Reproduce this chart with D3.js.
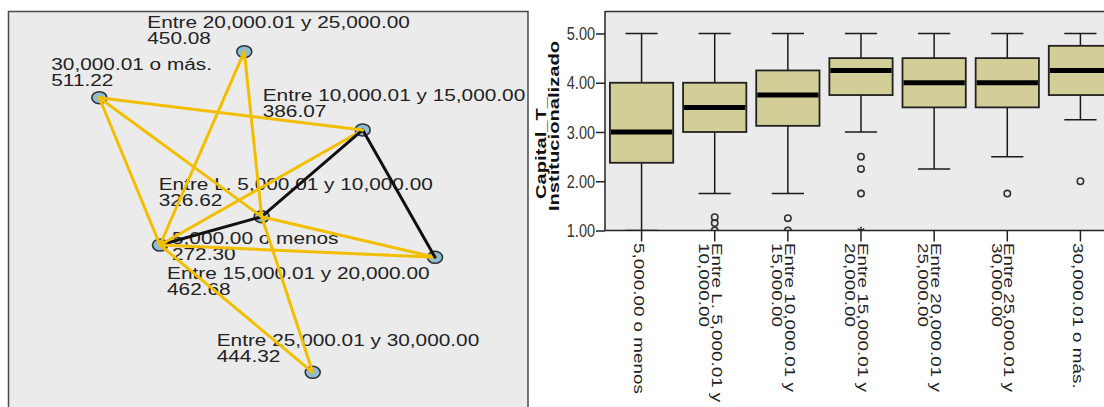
<!DOCTYPE html>
<html><head><meta charset="utf-8">
<script src="https://cdn.jsdelivr.net/npm/d3@7"></script>
<style>
html,body{margin:0;padding:0;background:#fff;}
svg{display:block;font-family:"Liberation Sans",Arial,Helvetica,sans-serif;}
</style></head><body>
<svg id="chart" width="1104" height="407"></svg>
<script>
// ================= DATA =================
// groups (shared by both panels)
const groups = ["5,000.00 o menos","Entre L. 5,000.01 y 10,000.00","Entre 10,000.01 y 15,000.00",
  "Entre 15,000.01 y 20,000.00","Entre 20,000.01 y 25,000.00","Entre 25,000.01 y 30,000.00","30,000.01 o más."];
// left panel: pairwise comparisons, mean ranks
const meanRanks = [272.30, 326.62, 386.07, 462.68, 450.08, 444.32, 511.22];
// node layout in the network panel (relative 0-1 coordinates)
const nodeLayoutX = [0.2923, 0.4879, 0.6821, 0.8212, 0.4544, 0.5860, 0.1756];
const nodeLayoutY = [0.5899, 0.5182, 0.2987, 0.6210, 0.1005, 0.9122, 0.2170];
// edges between groups (index pairs) and whether the difference is significant
const edgeFrom = [0,0,0,0,0,0,1,1,1,1,1,2,2];
const edgeTo   = [1,2,3,4,5,6,2,3,4,5,6,3,6];
const edgeSignificant = [false,true,true,true,true,true,false,true,true,true,true,false,true];

// right panel: boxplot of Capital_T_Institucionalizado
const categories = groups;
const tickLabelLines = [["5,000.00 o menos"],["Entre L. 5,000.01 y","10,000.00"],["Entre 10,000.01 y","15,000.00"],
  ["Entre 15,000.01 y","20,000.00"],["Entre 20,000.01 y","25,000.00"],["Entre 25,000.01 y","30,000.00"],["30,000.01 o más."]];
const whiskerHigh = [5.00, 5.00, 5.00, 5.00, 5.00, 5.00, 5.00];
const q3          = [4.00, 4.00, 4.25, 4.50, 4.50, 4.50, 4.75];
const median      = [3.00, 3.50, 3.75, 4.25, 4.00, 4.00, 4.25];
const q1          = [2.375,3.00, 3.125,3.75, 3.50, 3.50, 3.75];
const whiskerLow  = [1.00, 1.75, 1.75, 3.00, 2.25, 2.50, 3.25];
const outliers    = [[], [1.27,1.15,1.00], [1.25,1.00], [2.50,2.25,1.75], [], [1.75], [2.00]];
const extremes    = [[], [], [], [1.00], [], [], []];
const yTicks = [1, 2, 3, 4, 5];
const yTitleLines = ["Capital_T_", "Institucionalizado"];

// ================= LAYOUT / STYLE =================
const labelDx = [12, -103, -100, -268, -97, -96, -48];
const labelDy = [-1.5, -26.7, -28.5, 22, -23.2, -26.8, -27.7];
const BG = "#ebebeb", INK = "#222";
const svg = d3.select("#chart");

function stretch(sel, k){
  sel.each(function(){
    const L = this.getComputedTextLength();
    this.setAttribute("textLength", L*k);
    this.setAttribute("lengthAdjust","spacingAndGlyphs");
  });
}

// ================= LEFT PANEL =================
const left = svg.append("g");
const netX = d3.scaleLinear().domain([0,1]).range([8,528]);
const netY = d3.scaleLinear().domain([0,1]).range([12,407]);
left.append("rect").attr("x",8.5).attr("y",11.5).attr("width",519.5).attr("height",430)
  .attr("fill",BG).attr("stroke","#4a4a4a").attr("stroke-width",1.5);

const nodes = groups.map((g,i)=>({name:g, rank:meanRanks[i], x:netX(nodeLayoutX[i]), y:netY(nodeLayoutY[i]), dx:labelDx[i], dy:labelDy[i]}));

const lab = left.append("g").attr("fill",INK).attr("font-size",16);
nodes.forEach(n=>{
  lab.append("text").attr("x",n.x+n.dx).attr("y",n.y+n.dy).text(n.name).call(stretch,1.3);
  lab.append("text").attr("x",n.x+n.dx).attr("y",n.y+n.dy+16).text(d3.format(".2f")(n.rank)).call(stretch,1.3);
});

left.append("g").selectAll("ellipse").data(nodes).join("ellipse")
  .attr("cx",d=>d.x).attr("cy",d=>d.y).attr("rx",7.5).attr("ry",6)
  .attr("fill","#8fbdd6").attr("stroke","#333").attr("stroke-width",1.6);

const edges = edgeFrom.map((f,i)=>({a:nodes[f], b:nodes[edgeTo[i]], sig:edgeSignificant[i]}));
left.append("g").selectAll("line").data(edges).join("line")
  .attr("x1",d=>d.a.x).attr("y1",d=>d.a.y).attr("x2",d=>d.b.x).attr("y2",d=>d.b.y)
  .attr("stroke",d=>d.sig?"#f2bf00":"#111").attr("stroke-width",3).attr("stroke-linecap","round");

// ================= RIGHT PANEL =================
const right = svg.append("g");
const x = d3.scaleBand().domain(categories).range([605,1117]).paddingInner(0).paddingOuter(0);
const y = d3.scaleLinear().domain([1,5]).range([230.5,33.5]);
const bw = x.bandwidth();
const boxW = bw*0.865, capW = bw*0.44;
const plotTop = 11, plotBottom = y(1), plotLeft = 605, plotRight = 1130;

right.append("rect").attr("x",plotLeft).attr("y",plotTop).attr("width",plotRight-plotLeft).attr("height",plotBottom-plotTop).attr("fill",BG);
svg.append("defs").append("clipPath").attr("id","pc").append("rect")
  .attr("x",plotLeft).attr("y",plotTop).attr("width",plotRight-plotLeft).attr("height",plotBottom-plotTop);
const plot = right.append("g").attr("clip-path","url(#pc)");

categories.forEach((c,i)=>{
  const cx = x(c)+bw/2;
  const g = plot.append("g").attr("stroke","#1a1a1a").attr("stroke-width",1.5);
  g.append("line").attr("x1",cx).attr("x2",cx).attr("y1",y(whiskerLow[i])).attr("y2",y(whiskerHigh[i]));
  g.append("line").attr("x1",cx-capW/2).attr("x2",cx+capW/2).attr("y1",y(whiskerHigh[i])).attr("y2",y(whiskerHigh[i]));
  g.append("line").attr("x1",cx-capW/2).attr("x2",cx+capW/2).attr("y1",y(whiskerLow[i])).attr("y2",y(whiskerLow[i]));
  g.append("rect").attr("x",cx-boxW/2).attr("width",boxW).attr("y",y(q3[i])).attr("height",y(q1[i])-y(q3[i]))
    .attr("fill","#d3ce97").attr("stroke","#222").attr("stroke-width",1.8);
  g.append("line").attr("x1",cx-boxW/2+1).attr("x2",cx+boxW/2-1).attr("y1",y(median[i])).attr("y2",y(median[i]))
    .attr("stroke","#000").attr("stroke-width",5);
  outliers[i].forEach(v=>{
    plot.append("circle").attr("cx",cx).attr("cy",y(v)).attr("r",3.2)
      .attr("fill","none").attr("stroke","#333").attr("stroke-width",1.6);
  });
  extremes[i].forEach(v=>{
    plot.append("path").attr("d",d3.symbol(d3.symbolAsterisk,40)())
      .attr("transform",`translate(${cx},${y(v)})`).attr("fill","none").attr("stroke","#333").attr("stroke-width",1.4);
  });
});

// frame lines
right.append("line").attr("x1",plotLeft).attr("x2",plotRight).attr("y1",plotTop+0.5).attr("y2",plotTop+0.5).attr("stroke","#333").attr("stroke-width",1.5);
right.append("line").attr("x1",plotLeft).attr("x2",plotLeft).attr("y1",plotTop).attr("y2",plotBottom).attr("stroke","#222").attr("stroke-width",1.5);
right.append("line").attr("x1",plotLeft).attr("x2",plotRight).attr("y1",plotBottom).attr("y2",plotBottom).attr("stroke","#222").attr("stroke-width",1.5);

// y axis
const yAxis = right.append("g").attr("transform",`translate(${plotLeft},0)`)
  .call(d3.axisLeft(y).tickValues(yTicks).tickFormat(d3.format(".2f")).tickSize(9).tickPadding(1).tickSizeOuter(0));
yAxis.select(".domain").remove();
yAxis.selectAll("line").attr("stroke","#222").attr("stroke-width",1.5);
yAxis.selectAll("text").attr("font-size",14.5).attr("fill","#333")
  .attr("font-family",'"Liberation Sans",Arial,sans-serif').attr("transform","scale(1,1.3)");

// x axis
const xAxis = right.append("g").attr("transform",`translate(0,${plotBottom})`)
  .call(d3.axisBottom(x).tickSize(11).tickFormat(()=>"").tickSizeOuter(0));
xAxis.select(".domain").remove();
xAxis.selectAll("line").attr("stroke","#222").attr("stroke-width",1.5);
xAxis.selectAll(".tick").each(function(d,i){
  const lines = tickLabelLines[i];
  const offs = lines.length===1 ? [-7.7] : [-3.2,-15.7];
  lines.forEach((t,j)=>{
    d3.select(this).append("text").attr("transform",`translate(${offs[j]},12.5) rotate(90)`)
      .attr("text-anchor","start").attr("fill","#222").attr("font-size",14.5)
      .attr("font-family",'"Liberation Sans",Arial,sans-serif').text(t).call(stretch,1.3);
  });
});

// y title
const titleBase = [546, 559], titleCenter = [148, 126];
yTitleLines.forEach((t,j)=>{
  const tx = right.append("text").attr("font-weight","bold").attr("font-size",15.5).attr("fill","#111").text(t);
  const L = tx.node().getComputedTextLength()*1.3;
  tx.attr("textLength",L).attr("lengthAdjust","spacingAndGlyphs")
    .attr("transform",`translate(${titleBase[j]},${titleCenter[j]+L/2}) rotate(-90)`);
});
</script>
</body></html>
